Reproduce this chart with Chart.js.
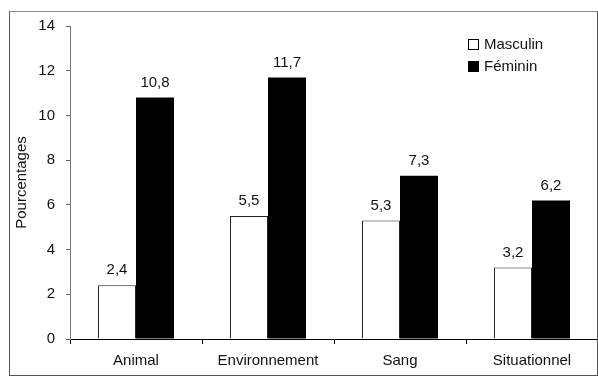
<!DOCTYPE html>
<html>
<head>
<meta charset="utf-8">
<script src="https://cdn.jsdelivr.net/npm/chart.js@4"></script>
<style>
  body { margin: 0; background: #fff; }
  #wrap { position: relative; width: 598px; height: 376px; }
  #frame { position: absolute; left: 9px; top: 11px; width: 589px; height: 365px;
           box-sizing: border-box; border: 1px solid #555; border-top-color: #888; pointer-events: none; }
  canvas { position: absolute; left: 0; top: 0; }
</style>
</head>
<body>
<div id="wrap">
  <canvas id="chart" width="598" height="376"></canvas>
  <div id="frame"></div>
</div>
<script>
// données
const categories = ['Animal', 'Environnement', 'Sang', 'Situationnel'];
const masculin = [2.4, 5.5, 5.3, 3.2];
const feminin = [10.8, 11.7, 7.3, 6.2];
const yTicks = [0, 2, 4, 6, 8, 10, 12, 14];

const FONT = 'Liberation Sans, Arial, sans-serif';

// étiquettes au-dessus des barres + légende
const labelsPlugin = {
  id: 'labels',
  afterDatasetsDraw(chart) {
    const ctx = chart.ctx;
    ctx.save();
    ctx.font = '15px ' + FONT;
    ctx.fillStyle = '#111';
    ctx.textAlign = 'center';
    ctx.textBaseline = 'middle';
    chart.data.datasets.forEach((ds, i) => {
      chart.getDatasetMeta(i).data.forEach((bar, j) => {
        ctx.fillText(ds.data[j].toFixed(1).replace('.', ','), bar.x, bar.y - 15);
      });
    });

    // légende
    const rows = [45, 67];
    chart.data.datasets.forEach((ds, i) => {
      const y = rows[i];
      ctx.fillStyle = ds.backgroundColor;
      ctx.fillRect(468.5, y - 5.5, 10, 10);
      ctx.strokeStyle = '#000';
      ctx.lineWidth = 1;
      ctx.strokeRect(468.5, y - 5.5, 10, 10);
      ctx.fillStyle = '#111';
      ctx.textAlign = 'left';
      ctx.fillText(ds.label, 484, y);
    });
    ctx.restore();
  }
};

new Chart(document.getElementById('chart'), {
  type: 'bar',
  data: {
    labels: categories,
    datasets: [
      {
        label: 'Masculin',
        data: masculin,
        backgroundColor: '#ffffff',
        borderColor: '#222',
        borderWidth: 1,
        barPercentage: 1,
        categoryPercentage: 0.576
      },
      {
        label: 'Féminin',
        data: feminin,
        backgroundColor: '#000000',
        borderColor: '#000',
        borderWidth: 0,
        barPercentage: 1,
        categoryPercentage: 0.576
      }
    ]
  },
  options: {
    responsive: false,
    animation: false,
    layout: { padding: { left: 0, top: 26, right: 0, bottom: 0 } },
    plugins: {
      legend: { display: false },
      tooltip: { enabled: false }
    },
    scales: {
      x: {
        afterFit: s => { s.height = 37; },
        grid: { offset: true, drawOnChartArea: false, tickLength: 5, color: '#000' },
        border: { color: '#000', width: 1 },
        ticks: { color: '#111', font: { size: 15, family: FONT }, padding: 8 }
      },
      y: {
        min: 0,
        max: 14,
        afterFit: s => { s.width = 70; },
        afterBuildTicks: s => { s.ticks = yTicks.map(v => ({ value: v })); },
        grid: { drawOnChartArea: false, tickLength: 4, color: '#666' },
        border: { color: '#777', width: 1 },
        ticks: { color: '#111', font: { size: 15, family: FONT }, padding: 11 },
        title: {
          display: true,
          text: 'Pourcentages',
          color: '#111',
          font: { size: 15, family: FONT },
          padding: { top: 13, bottom: 0 }
        }
      }
    }
  },
  plugins: [labelsPlugin]
});
</script>
</body>
</html>
